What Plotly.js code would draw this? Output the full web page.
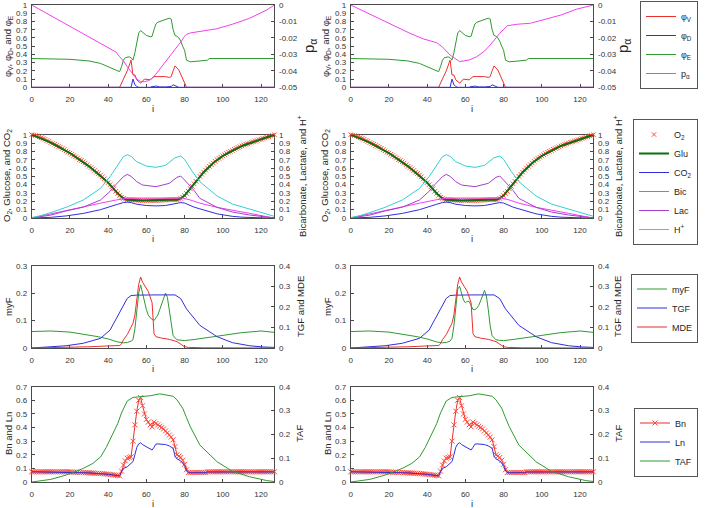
<!DOCTYPE html>
<html><head><meta charset="utf-8">
<script src="https://cdn.plot.ly/plotly-3.0.1.min.js"></script>
<style>html,body{margin:0;padding:0;background:#fff}#chart{width:708px;height:508px}</style>
</head><body><div id="chart"></div>
<script>
// ---------- tick labels ----------
const xTicks = [0,20,40,60,80,100,120];
const xTickText = ['0','20','40','60','80','100','120'];
const unitTicks = [0,0.1,0.2,0.3,0.4,0.5,0.6,0.7,0.8,0.9,1];
const unitText = ['0','0.1','0.2','0.3','0.4','0.5','0.6','0.7','0.8','0.9','1'];
const pTicks = [-0.05,-0.04,-0.03,-0.02,-0.01,0];
const pText = ['-0.05','-0.04','-0.03','-0.02','-0.01','0'];
const myFTicks = [0,0.1,0.2,0.3];
const myFText = ['0','0.1','0.2','0.3'];
const fourTicks = [0,0.1,0.2,0.3,0.4];
const fourText = ['0','0.1','0.2','0.3','0.4'];
const bnTicks = [0,0.1,0.2,0.3,0.4,0.5,0.6,0.7];
const bnText = ['0','0.1','0.2','0.3','0.4','0.5','0.6','0.7'];

// ---------- row 1 : phi_V, phi_D, phi_E, p_alpha ----------
const phiV_i = [0,46,48,50,52,53,54,55,57,59,62,64,66,70,72,73,74,75,77,78,80,81,127];
const phiV   = [0,0,0.1,0.2,0.33,0.15,0.15,0.09,0.05,0.1,0.09,0.13,0.13,0.13,0.12,0.13,0.2,0.26,0.21,0.16,0.07,0,0];
const phiD_i = [0,52,53,54,55,56,62,63,64,65,66,67,70,73,74,75,76,77,127];
const phiD   = [0,0,0.1,0.03,0.01,0,0,0.01,0.01,0.015,0.01,0.005,0.005,0.01,0.03,0.02,0.01,0,0];
const phiE_i = [0,20,30,36,40,44,46,47,48,49,51,52,53,54,55,56,57,58,60,62,63,64,65,66,68,70,72,73,74,75,76,77,78,79,80,81,83,88,92,93,127];
const phiE   = [0.35,0.34,0.32,0.29,0.25,0.21,0.19,0.25,0.33,0.36,0.37,0.36,0.33,0.42,0.55,0.66,0.69,0.67,0.63,0.615,0.62,0.7,0.77,0.79,0.81,0.82,0.84,0.83,0.7,0.63,0.62,0.6,0.56,0.5,0.45,0.33,0.31,0.32,0.33,0.35,0.35];
const pA_i  = [0,10,18,27,36,44,46,48,50,53,55,57,59,61,63,65,67,69,71,74,76,78,80,81,83,86,90,97,105,114,123,127];
const pA    = [0,-0.0065,-0.0115,-0.0172,-0.0233,-0.0285,-0.0314,-0.034,-0.0375,-0.042,-0.045,-0.0466,-0.0466,-0.046,-0.0445,-0.042,-0.039,-0.036,-0.0335,-0.029,-0.0255,-0.0225,-0.019,-0.0178,-0.017,-0.0165,-0.016,-0.0144,-0.0117,-0.0081,-0.003,0];
const pA2_i = [0,14,31,38,45,48,52,57,62,66,70,73,78,82,87,94,101,110,118,127];
const pA2   = [0,-0.0078,-0.0172,-0.0206,-0.0229,-0.0255,-0.0304,-0.0344,-0.0334,-0.0314,-0.028,-0.0243,-0.0172,-0.0126,-0.0117,-0.0111,-0.0091,-0.0061,-0.0026,0];

// ---------- row 2 : O2, Glu, CO2, Bic, Lac, H+ ----------
const O2 = [1.0,0.995,0.99,0.985,0.975,0.965,0.955,0.945,0.93,0.92,
 0.905,0.895,0.885,0.87,0.86,0.85,0.835,0.82,0.805,0.79,
 0.78,0.765,0.75,0.735,0.72,0.70,0.69,0.675,0.66,0.64,
 0.62,0.605,0.59,0.57,0.55,0.535,0.515,0.495,0.47,0.45,
 0.425,0.40,0.375,0.35,0.32,0.295,0.27,0.25,0.235,0.225,
 0.22,0.22,0.22,0.218,0.215,0.215,0.213,0.212,0.21,0.21,
 0.21,0.21,0.21,0.21,0.21,0.21,0.21,0.212,0.213,0.215,
 0.215,0.217,0.218,0.22,0.22,0.22,0.22,0.225,0.235,0.25,
 0.27,0.295,0.32,0.35,0.38,0.41,0.44,0.47,0.50,0.525,
 0.55,0.575,0.60,0.62,0.64,0.66,0.68,0.70,0.715,0.73,
 0.745,0.76,0.775,0.79,0.80,0.81,0.825,0.835,0.845,0.855,
 0.865,0.875,0.885,0.89,0.90,0.91,0.915,0.925,0.93,0.94,
 0.945,0.955,0.96,0.97,0.975,0.985,0.99,1.0];
const Glu_i = [0,10,20,30,40,45,48,50,58,65,72,76,78,80,85,90,95,100,110,120,127];
const Glu   = [1,0.905,0.78,0.62,0.425,0.295,0.235,0.22,0.21,0.21,0.218,0.22,0.235,0.27,0.41,0.55,0.66,0.745,0.865,0.945,1];
const CO2_i = [0,5,10,18,27,36,40,45,48,50,52,55,60,65,70,75,78,80,82,85,88,97,105,110,120,127];
const CO2   = [0,0.003,0.008,0.025,0.055,0.1,0.125,0.165,0.185,0.19,0.185,0.165,0.15,0.145,0.15,0.17,0.185,0.18,0.16,0.13,0.11,0.05,0.02,0.01,0.002,0];
const Bic_i = [0,5,10,18,27,36,44,50,64,79,84,88,97,105,114,123,127];
const Bic   = [0,0.025,0.05,0.095,0.14,0.178,0.215,0.238,0.24,0.24,0.21,0.178,0.128,0.09,0.056,0.016,0];
const Lac_i = [0,5,10,18,27,36,41,44,48,50,52,55,58,65,72,76,78,80,85,88,97,105,114,123,127];
const Lac   = [0,0.015,0.035,0.085,0.13,0.216,0.32,0.4,0.496,0.524,0.5,0.436,0.396,0.376,0.416,0.488,0.504,0.456,0.33,0.236,0.128,0.072,0.036,0.012,0];
const Hp_i  = [0,5,10,18,27,36,41,44,48,50,52,55,60,65,70,75,78,80,84,88,97,105,114,123,127];
const Hp    = [0.005,0.03,0.065,0.128,0.216,0.356,0.496,0.6,0.736,0.76,0.74,0.676,0.624,0.608,0.632,0.724,0.744,0.704,0.56,0.436,0.264,0.168,0.104,0.048,0.02];

// ---------- row 3 : myF, TGF, MDE ----------
const myF_i = [0,10,20,30,35,40,45,48,50,52,53,54,55,56,57,58,59,60,61,62,63,64,65,66,67,68,69,70,71,72,73,74,76,78,80,85,90,100,110,120,127];
const myF   = [0.06,0.062,0.058,0.048,0.041,0.033,0.022,0.019,0.02,0.025,0.03,0.07,0.14,0.2,0.23,0.2,0.165,0.14,0.12,0.11,0.105,0.1,0.11,0.12,0.14,0.16,0.18,0.2,0.185,0.14,0.08,0.045,0.03,0.028,0.027,0.031,0.036,0.048,0.056,0.062,0.057];
const myF2  = [0.06,0.062,0.058,0.048,0.041,0.033,0.022,0.019,0.02,0.025,0.035,0.08,0.15,0.215,0.225,0.2,0.175,0.165,0.17,0.17,0.155,0.14,0.14,0.145,0.155,0.17,0.19,0.21,0.19,0.14,0.08,0.045,0.03,0.028,0.027,0.031,0.036,0.048,0.056,0.062,0.057];
const TGF_i = [0,5,10,18,27,36,41,46,50,52,55,65,75,78,81,88,97,105,114,121,127];
const TGF   = [0,0.003,0.006,0.011,0.023,0.047,0.087,0.176,0.241,0.255,0.257,0.258,0.258,0.24,0.19,0.11,0.055,0.026,0.011,0.005,0.003];
const MDE_i = [0,20,30,40,46,47,48,50,52,53,54,55,56,57,58,61,63,64,65,68,72,76,78,80,82,90,127];
const MDE   = [0,0.003,0.006,0.01,0.012,0.02,0.04,0.065,0.1,0.12,0.16,0.24,0.31,0.345,0.32,0.275,0.22,0.07,0.055,0.048,0.042,0.031,0.02,0.006,0.003,0.001,0];

// ---------- row 4 : Bn, Ln, TAF ----------
const Bn = [0.075,0.075,0.075,0.075,0.075,0.075,0.075,0.075,0.075,0.075,
 0.075,0.075,0.075,0.075,0.075,0.075,0.075,0.075,0.075,0.075,
 0.074,0.073,0.072,0.072,0.071,0.07,0.07,0.069,0.068,0.068,
 0.067,0.066,0.066,0.065,0.064,0.063,0.062,0.061,0.06,0.058,
 0.057,0.055,0.054,0.052,0.05,0.048,0.045,
 0.08,0.125,0.155,0.175,0.18,0.185,0.3,
 0.42,0.52,0.6,0.62,
 0.56,0.5,0.46,0.44,0.42,0.405,
 0.44,0.43,0.42,0.41,0.4,0.39,
 0.375,0.36,0.345,0.33,0.31,0.26,0.2,
 0.19,0.18,0.16,0.13,0.09,0.07,
 0.07,0.07,0.07,0.07,0.07,0.07,0.07,0.07,0.07,
 0.075,0.075,0.075,0.075,0.075,0.075,0.075,0.075,0.075,0.075,
 0.075,0.075,0.075,0.075,0.075,0.075,0.075,0.075,0.075,0.075,
 0.075,0.075,0.075,0.075,0.075,0.075,0.075,0.075,0.075,0.075,
 0.075,0.075,0.075,0.075,0.075,0.075];
const Ln_i = [0,20,30,40,46,47,48,50,52,53,54,55,56,57,58,60,62,63,64,65,66,70,72,74,75,76,78,80,81,82,91,92,127];
const Ln   = [0.075,0.073,0.067,0.057,0.045,0.075,0.1,0.112,0.135,0.15,0.2,0.255,0.28,0.288,0.275,0.26,0.245,0.235,0.255,0.278,0.28,0.275,0.265,0.248,0.19,0.17,0.155,0.12,0.08,0.068,0.068,0.074,0.074];
const TAF_i = [0,5,10,18,27,32,36,39,42,45,47,50,53,62,67,74,76,79,81,83,88,97,105,114,123,127];
const TAF   = [0,0.004,0.011,0.029,0.057,0.078,0.105,0.145,0.195,0.245,0.29,0.34,0.355,0.362,0.37,0.36,0.345,0.31,0.27,0.232,0.155,0.085,0.045,0.022,0.006,0.002];

// ---------- styling ----------
const W = 708, H = 508;
const FONT = 'Liberation Sans, Arial, Helvetica, sans-serif';
const COL = {red:'#ec2f2f', blue:'#2f2fe0', green:'#2f9a2f', magenta:'#f040f0', cyan:'#33cfcf',
             purple:'#a340cf', dkgreen:'#0d6e0d', axis:'#4a4a4a', text:'#333333', mark:'#ff4a3a'};
const colX = [[31.7,274.4],[350.7,593.4]];
const rowY = [[5,87.3],[134.7,218],[265.7,348],[386.7,482]];

const sfx = k => (k === 1 ? '' : String(k));
const traces = [];
const layout = {
  width: W, height: H, margin: {l:0, r:0, t:0, b:0},
  paper_bgcolor: '#fff', plot_bgcolor: '#fff',
  font: {family: FONT, size: 8, color: COL.text},
  showlegend: true, annotations: []
};

function lineTrace(x, y, s, right, color, name, leg, show, extra) {
  const t = {x: x, y: y, type: 'scatter', mode: 'lines', name: name,
    xaxis: 'x' + sfx(s), yaxis: 'y' + (right ? String(2*s) : sfx(2*s-1)),
    line: {color: color, width: 1}, legend: leg, showlegend: show, hoverinfo: 'skip'};
  return Object.assign(t, extra || {});
}

function setAxes(s, r, c, lRange, lVals, lText, rRange, rVals, rText) {
  const common = {ticks: 'inside', ticklen: 3, tickcolor: COL.axis, showline: true,
    linecolor: COL.axis, linewidth: 1, showgrid: false, zeroline: false, layer: 'below traces',
    tickfont: {family: FONT, size: 8, color: COL.text}, fixedrange: true};
  layout['xaxis' + sfx(s)] = Object.assign({}, common, {
    domain: [colX[c][0]/W, colX[c][1]/W], anchor: 'y' + sfx(2*s-1),
    range: [0,127], tickmode: 'array', tickvals: xTicks, ticktext: xTickText, mirror: true,
    ticklabelstandoff: 4});
  layout['yaxis' + sfx(2*s-1)] = Object.assign({}, common, {
    domain: [1 - rowY[r][1]/H, 1 - rowY[r][0]/H], anchor: 'x' + sfx(s),
    range: lRange, tickmode: 'array', tickvals: lVals, ticktext: lText, ticklabelstandoff: 2});
  layout['yaxis' + (2*s)] = Object.assign({}, common, {
    overlaying: 'y' + sfx(2*s-1), side: 'right', anchor: 'x' + sfx(s),
    range: rRange, tickmode: 'array', tickvals: rVals, ticktext: rText, ticklabelstandoff: 2});
}

function ann(text, px, py, angle, size) {
  layout.annotations.push({text: text, xref: 'paper', yref: 'paper', x: px/W, y: 1 - py/H,
    xanchor: 'center', yanchor: 'middle', textangle: angle, showarrow: false,
    font: {family: FONT, size: size, color: '#262626'}});
}

const idx = O2.map((v, k) => k);
const idxBn = Bn.map((v, k) => k);

for (let c = 0; c < 2; c++) {
  const show = c === 0;
  // row 1
  let s = 1 + c;
  setAxes(s, 0, c, [0,1], unitTicks, unitText, [-0.05,0], pTicks, pText);
  traces.push(lineTrace(phiV_i, phiV, s, false, COL.red, 'φ<sub>V</sub>', 'legend', show));
  traces.push(lineTrace(phiD_i, phiD, s, false, COL.blue, 'φ<sub>D</sub>', 'legend', show));
  traces.push(lineTrace(phiE_i, phiE, s, false, COL.green, 'φ<sub>E</sub>', 'legend', show));
  traces.push(lineTrace(c === 0 ? pA_i : pA2_i, c === 0 ? pA : pA2, s, true, COL.magenta, 'p<sub>α</sub>', 'legend', show));
  // row 2
  s = 3 + c;
  setAxes(s, 1, c, [0,1], unitTicks, unitText, [0,1], unitTicks, unitText);
  traces.push(lineTrace(idx, O2, s, false, COL.mark, 'O<sub>2</sub>', 'legend2', show,
    {mode: 'markers', cliponaxis: false, marker: {symbol: 'x-thin-open', size: 4.5, line: {color: COL.mark, width: 1}}}));
  traces.push(lineTrace(Glu_i, Glu, s, false, COL.dkgreen, 'Glu', 'legend2', show, {line: {color: COL.dkgreen, width: 2}}));
  traces.push(lineTrace(CO2_i, CO2, s, false, COL.blue, 'CO<sub>2</sub>', 'legend2', show));
  traces.push(lineTrace(Bic_i, Bic, s, true, COL.magenta, 'Bic', 'legend2', show));
  traces.push(lineTrace(Lac_i, Lac, s, true, COL.purple, 'Lac', 'legend2', show));
  traces.push(lineTrace(Hp_i, Hp, s, true, COL.cyan, 'H<sup>+</sup>', 'legend2', show));
  // row 3
  s = 5 + c;
  setAxes(s, 2, c, [0,0.3], myFTicks, myFText, [0,0.4], fourTicks, fourText);
  traces.push(lineTrace(myF_i, c === 0 ? myF : myF2, s, false, COL.green, 'myF', 'legend3', show));
  traces.push(lineTrace(TGF_i, TGF, s, true, COL.blue, 'TGF', 'legend3', show));
  traces.push(lineTrace(MDE_i, MDE, s, true, COL.red, 'MDE', 'legend3', show));
  // row 4
  s = 7 + c;
  setAxes(s, 3, c, [0,0.7], bnTicks, bnText, [0,0.4], fourTicks, fourText);
  traces.push(lineTrace(idxBn, Bn, s, false, COL.red, 'Bn', 'legend4', show,
    {mode: 'lines+markers', cliponaxis: false, marker: {symbol: 'x-thin-open', size: 5, color: COL.mark, line: {color: COL.mark, width: 1}}}));
  traces.push(lineTrace(Ln_i, Ln, s, false, COL.blue, 'Ln', 'legend4', show));
  traces.push(lineTrace(TAF_i, TAF, s, true, COL.green, 'TAF', 'legend4', show));
}

// axis titles
const ctrX = [153, 472];
const rowMid = [46, 176, 307, 434];
const xTitleY = [108, 238, 368, 503];
const leftTitles = ['φ<sub>V</sub>, φ<sub>D</sub>, and φ<sub>E</sub>', 'O<sub>2</sub>, Glucose, and CO<sub>2</sub>', 'myF', 'Bn and Ln'];
const rightTitles = ['p<sub>α</sub>', 'Bicarbonate, Lactate, and H<sup>+</sup>', 'TGF and MDE', 'TAF'];
const leftTX = [[8,326],[7,325],[8,327],[8,327]];
const rightTX = [[309,623],[302,618],[300,617],[299,618]];
for (let c = 0; c < 2; c++) {
  for (let r = 0; r < 4; r++) {
    ann('i', ctrX[c], xTitleY[r], 0, 9.5);
    ann(leftTitles[r], leftTX[r][c], rowMid[r], -90, 9.5);
    ann(rightTitles[r], rightTX[r][c], rowMid[r], -90, r === 0 ? 15 : 9.5);
  }
}

// legends
const legBase = {xanchor: 'right', yanchor: 'middle', bgcolor: '#fff', bordercolor: '#555',
  borderwidth: 1, font: {family: FONT, size: 9, color: '#262626'}, tracegroupgap: 0, itemwidth: 30, traceorder: 'normal'};
const legCenters = [45, 182, 308, 442];
['legend','legend2','legend3','legend4'].forEach((k, n) => {
  layout[k] = Object.assign({}, legBase, {x: 698/W, y: 1 - legCenters[n]/H});
});

Plotly.newPlot('chart', traces, layout, {staticPlot: true, displayModeBar: false});
</script></body></html>
